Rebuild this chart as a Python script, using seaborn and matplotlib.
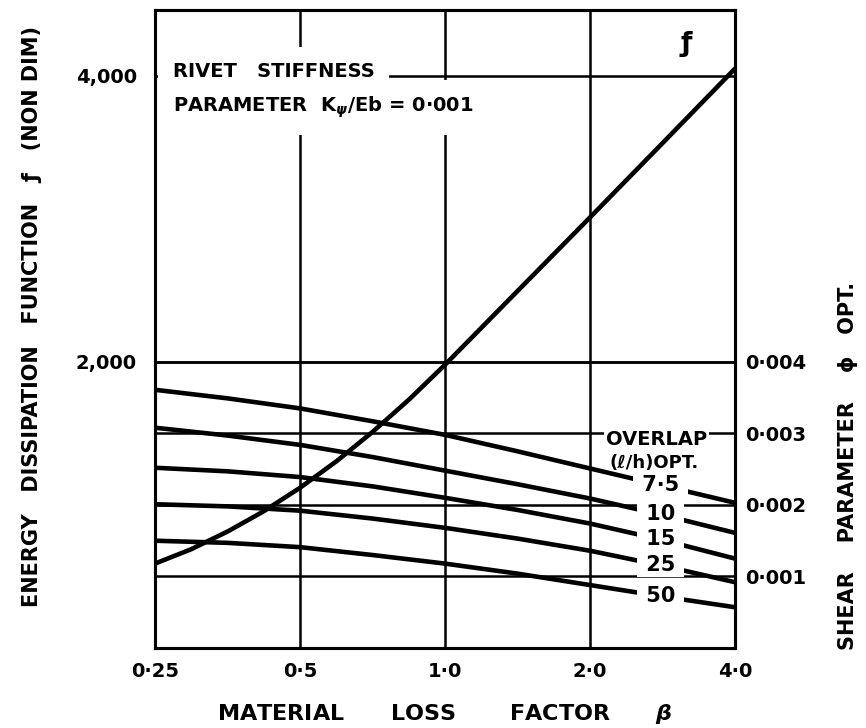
import numpy as np
import pandas as pd
import matplotlib
matplotlib.use("Agg")
import matplotlib.pyplot as plt
import seaborn as sns

# material loss factor β and energy dissipation function f
beta = [0.25, 0.297, 0.354, 0.42, 0.5, 0.595, 0.707, 0.841, 1.0, 1.414, 2.0, 2.83, 4.0]
f_values = [590, 690, 815, 955, 1120, 1305, 1510, 1735, 1980, 2495, 3010, 3530, 4050]

# optimum shear parameter φ for each optimum overlap (ℓ/h)
beta_phi = [0.25, 0.354, 0.5, 0.707, 1.0, 1.414, 2.0, 2.83, 4.0]
overlap_labels = ["7·5", "10", "15", "25", "50"]
phi_7_5 = [0.00361, 0.00349, 0.00335, 0.00317, 0.00298, 0.00275, 0.00251, 0.00227, 0.00203]
phi_10 = [0.00308, 0.00297, 0.00284, 0.00267, 0.00248, 0.00229, 0.00209, 0.00186, 0.00161]
phi_15 = [0.00252, 0.00247, 0.00239, 0.00226, 0.00210, 0.00193, 0.00174, 0.00151, 0.00125]
phi_25 = [0.00201, 0.00198, 0.00192, 0.00181, 0.00168, 0.00153, 0.00136, 0.00115, 0.00092]
phi_50 = [0.00150, 0.00147, 0.00141, 0.00130, 0.00118, 0.00104, 0.00088, 0.00072, 0.00057]

x_ticks = [0.25, 0.5, 1.0, 2.0, 4.0]
x_tick_labels = ["0·25", "0·5", "1·0", "2·0", "4·0"]
f_ticks = [2000, 4000]
f_tick_labels = ["2,000", "4,000"]
phi_ticks = [0.001, 0.002, 0.003, 0.004]
phi_tick_labels = ["0·001", "0·002", "0·003", "0·004"]

F_MAX = 4460
PHI_PER_F = 0.004 / 2000  # right scale: φ = 0.004 where f = 2,000

sns.set_theme(style="white")
plt.rcParams["font.family"] = ["DejaVu Sans"]
plt.rcParams["font.weight"] = "bold"
for key in ("text.color", "axes.labelcolor", "xtick.color", "ytick.color", "axes.edgecolor"):
    plt.rcParams[key] = "black"
plt.rcParams["mathtext.it"] = "DejaVu Sans:italic:bold"
plt.rcParams["mathtext.rm"] = "DejaVu Sans:bold"
plt.rcParams["mathtext.bf"] = "DejaVu Sans:bold"

LW_CURVE = 3.3
LW_GRID = 1.8
LW_FRAME = 2.2

fig = plt.figure(figsize=(8.66, 7.28), dpi=100)
ax = fig.add_axes([155 / 866, 80 / 728, 580 / 866, 638 / 728])
ax2 = ax.twinx()

df_f = pd.DataFrame({"beta": beta, "f": f_values})
sns.lineplot(data=df_f, x="beta", y="f", ax=ax, color="black", lw=LW_CURVE)

phi_series = dict(zip(overlap_labels, [phi_7_5, phi_10, phi_15, phi_25, phi_50]))
df_phi = pd.concat(
    [pd.DataFrame({"beta": beta_phi, "phi": v, "overlap": k}) for k, v in phi_series.items()],
    ignore_index=True,
)
sns.lineplot(data=df_phi, x="beta", y="phi", units="overlap", estimator=None,
             color="black", lw=LW_CURVE, ax=ax2, legend=False)

ax.set_xscale("log", base=2)
ax.set_xlim(0.25, 4.0)
ax.set_ylim(0, F_MAX)
ax2.set_ylim(0, F_MAX * PHI_PER_F)

ax.set_xticks(x_ticks)
ax.set_xticklabels(x_tick_labels)
ax.xaxis.set_minor_locator(matplotlib.ticker.NullLocator())
ax.set_yticks(f_ticks)
ax.set_yticklabels(f_tick_labels)
ax2.set_yticks(phi_ticks)
ax2.set_yticklabels(phi_tick_labels)

ax.tick_params(axis="x", length=0, pad=10, labelsize=14, labelcolor="black")
ax.tick_params(axis="y", length=0, pad=13, labelsize=14, labelcolor="black")
ax2.tick_params(axis="y", length=0, pad=7, labelsize=14, labelcolor="black")
for lab in ax.get_xticklabels() + ax.get_yticklabels() + ax2.get_yticklabels():
    lab.set_fontweight("bold")

# grid
ax.grid(True, axis="both", color="black", lw=LW_GRID)
ax2.grid(True, axis="y", color="black", lw=LW_GRID)
ax2.grid(False, axis="x")
ax.set_axisbelow(True)
ax2.set_axisbelow(True)

for a in (ax, ax2):
    for s in a.spines.values():
        s.set_visible(True)
        s.set_color("black")
        s.set_linewidth(LW_FRAME)

# axis titles
ax.set_xlabel(r"MATERIAL      LOSS       FACTOR      $\mathit{\beta}$", fontsize=16,
              fontweight="bold", color="black", math_fontfamily="custom")
ax.xaxis.set_label_coords(0.5, -0.084)
ax.set_ylabel("ENERGY   DISSIPATION   FUNCTION   ƒ   (NON DIM)",
              fontsize=15, fontweight="bold", color="black")
ax.yaxis.set_label_coords(-0.195, 0.52)
ax2.set_ylabel("SHEAR    PARAMETER    ϕ   OPT.", fontsize=15, fontweight="bold", color="black")
ax2.yaxis.set_label_coords(1.178, 0.285)

# annotation block
box = dict(boxstyle="square,pad=0.75", fc="white", ec="none")
ax.text(0.031, 0.895, "RIVET   STIFFNESS", transform=ax.transAxes, fontsize=14,
        fontweight="bold", va="baseline", ha="left", bbox=box, zorder=5)
ax.text(0.031, 0.840, r"PARAMETER  K$_\psi$/Eb = 0·001", transform=ax.transAxes,
        fontsize=14, fontweight="bold", va="baseline", ha="left", bbox=box, zorder=5)

# curve label for f
ax.annotate("ƒ", xy=(beta[-1], f_values[-1]), xytext=(-35, 18), textcoords="offset points",
            fontsize=19, fontweight="bold", ha="center", va="center")

# overlap labels sitting on their curves
beta_label = 2.8
for k, v in phi_series.items():
    y_lab = np.interp(np.log2(beta_label), np.log2(beta_phi), v)
    ax2.text(beta_label, y_lab, f" {k} ", fontsize=15, fontweight="bold", ha="center",
             va="center", bbox=dict(boxstyle="square,pad=0.08", fc="white", ec="none"), zorder=5)

ax2.text(2.75, 0.00292, "OVERLAP", fontsize=14, fontweight="bold", ha="center", va="center",
         bbox=dict(boxstyle="square,pad=0.08", fc="white", ec="none"), zorder=5)
ax2.text(2.72, 0.00259, "(ℓ/h)OPT.", fontsize=13, fontweight="bold", ha="center", va="center",
         zorder=5)

fig.savefig("out.png", dpi=100, facecolor="white")
